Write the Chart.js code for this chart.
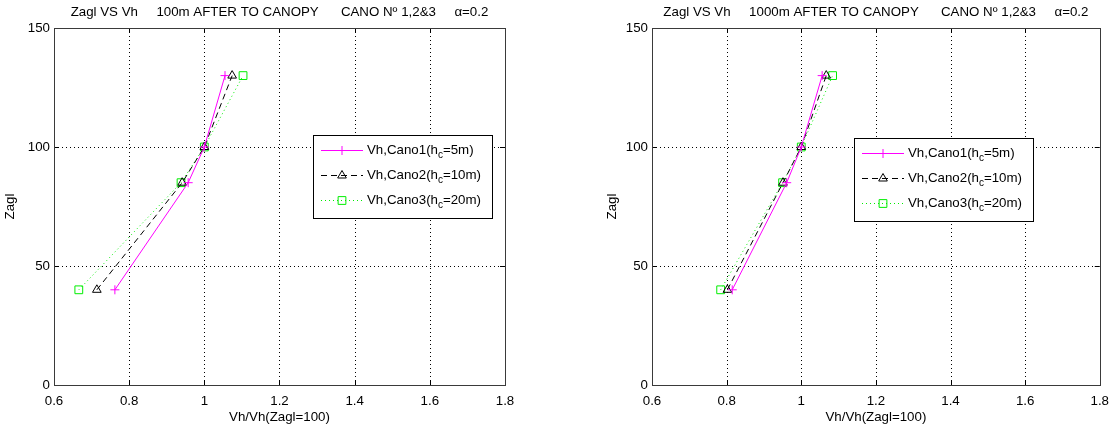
<!DOCTYPE html>
<html>
<head>
<meta charset="utf-8">
<script src="https://cdn.jsdelivr.net/npm/chart.js"></script>
<style>
  html, body { margin: 0; padding: 0; background: #fff; }
  #wrap { position: relative; width: 1117px; height: 427px; overflow: hidden; }
  .pane { position: absolute; top: 0; height: 427px; }
</style>
</head>
<body>
<div id="wrap">
  <div class="pane" style="left:0;width:558px"><canvas id="left" width="558" height="427"></canvas></div>
  <div class="pane" style="left:558px;width:559px"><canvas id="right" width="559" height="427"></canvas></div>
</div>
<script>
// heights above ground (y axis)
const zagl = [40, 85, 100, 130];

// Vh/Vh(Zagl=100), 100m after the canopy
const cano1_100m = [0.762, 0.957, 1.0, 1.055];
const cano2_100m = [0.714, 0.941, 1.0, 1.074];
const cano3_100m = [0.666, 0.938, 1.0, 1.103];

// Vh/Vh(Zagl=100), 1000m after the canopy
const cano1_1000m = [0.815, 0.961, 1.0, 1.056];
const cano2_1000m = [0.802, 0.951, 1.0, 1.067];
const cano3_1000m = [0.784, 0.950, 1.0, 1.084];

const xTicks = [0.6, 0.8, 1, 1.2, 1.4, 1.6, 1.8];
const yTicks = [0, 50, 100, 150];

const legendNames = ['Vh,Cano1(h', 'Vh,Cano2(h', 'Vh,Cano3(h'];
const legendSub = 'c';
const legendTail = ['=5m)', '=10m)', '=20m)'];

const titles = [
  'Zagl VS Vh     100m AFTER TO CANOPY      CANO N\u00BA 1,2&3     \u03B1=0.2',
  'Zagl VS Vh     1000m AFTER TO CANOPY      CANO N\u00BA 1,2&3     \u03B1=0.2'
];
const xLabel = 'Vh/Vh(Zagl=100)';
const yLabel = 'Zagl';

const FONT = '"Liberation Sans", Arial, sans-serif';
const FS = 13.3;

const styles = [
  { color: '#ff00ff', dash: [], pointStyle: 'cross', radius: 4.5 },
  { color: '#000000', dash: [6, 4], pointStyle: 'triangle', radius: 5 },
  { color: '#00ee00', dash: [1, 3], pointStyle: 'rect', radius: 5.5 }
];

const toPoints = (xs) => xs.map((x, i) => ({ x: x, y: zagl[i] }));

// matlab-like dotted grid, box, ticks, title, labels and legend
const matlabPlugin = {
  id: 'matlabFrame',
  beforeDatasetsDraw(chart) {
    const ctx = chart.ctx;
    const a = chart.chartArea;
    const xs = chart.scales.x, ys = chart.scales.y;
    ctx.save();
    ctx.strokeStyle = '#000';
    ctx.lineWidth = 1;
    ctx.setLineDash([1, 3]);
    ctx.beginPath();
    xTicks.slice(1, -1).forEach(v => {
      const px = Math.round(xs.getPixelForValue(v)) + 0.5;
      ctx.moveTo(px, a.top); ctx.lineTo(px, a.bottom);
    });
    yTicks.slice(1, -1).forEach(v => {
      const py = Math.round(ys.getPixelForValue(v)) + 0.5;
      ctx.moveTo(a.left, py); ctx.lineTo(a.right, py);
    });
    ctx.stroke();
    ctx.restore();
  },
  afterDraw(chart) {
    const o = chart.options.plugins.matlabFrame;
    const ctx = chart.ctx;
    const a = chart.chartArea;
    const xs = chart.scales.x, ys = chart.scales.y;
    ctx.save();

    // inward ticks, both sides
    ctx.strokeStyle = '#000';
    ctx.lineWidth = 1;
    ctx.setLineDash([]);
    ctx.beginPath();
    xTicks.forEach(v => {
      const px = Math.round(xs.getPixelForValue(v)) + 0.5;
      ctx.moveTo(px, a.bottom); ctx.lineTo(px, a.bottom - 5);
      ctx.moveTo(px, a.top); ctx.lineTo(px, a.top + 5);
    });
    yTicks.forEach(v => {
      const py = Math.round(ys.getPixelForValue(v)) + 0.5;
      ctx.moveTo(a.left, py); ctx.lineTo(a.left + 5, py);
      ctx.moveTo(a.right, py); ctx.lineTo(a.right - 5, py);
    });
    ctx.stroke();

    // box
    ctx.strokeStyle = '#3a3a3a';
    ctx.strokeRect(Math.round(a.left) + 0.5, Math.round(a.top) + 0.5,
      Math.round(a.right - a.left), Math.round(a.bottom - a.top));

    // title + axis labels
    ctx.fillStyle = '#000';
    ctx.font = FS + 'px ' + FONT;
    ctx.textAlign = 'center';
    ctx.textBaseline = 'middle';
    const cx = (a.left + a.right) / 2;
    ctx.fillText(o.title, cx, 12.5);
    ctx.fillText(xLabel, cx, 417);
    ctx.save();
    ctx.translate(o.yLabelX, (a.top + a.bottom) / 2);
    ctx.rotate(-Math.PI / 2);
    ctx.fillText(yLabel, 0, 0);
    ctx.restore();

    // legend
    const L = o.legend;
    ctx.fillStyle = '#fff';
    ctx.fillRect(L.x, L.y, L.w, L.h);
    ctx.strokeStyle = '#000';
    ctx.strokeRect(L.x + 0.5, L.y + 0.5, L.w, L.h);
    chart.data.datasets.forEach((ds, i) => {
      const st = styles[i];
      const ry = L.y + 15 + i * 25;
      const ly = Math.round(ry) + 0.5;
      ctx.strokeStyle = st.color;
      ctx.lineWidth = 1;
      ctx.setLineDash(st.dash);
      ctx.beginPath();
      ctx.moveTo(L.x + 8, ly);
      ctx.lineTo(L.x + 50, ly);
      ctx.stroke();
      ctx.setLineDash([]);
      ctx.fillStyle = 'rgba(0,0,0,0)';
      Chart.helpers.drawPoint(ctx, { pointStyle: st.pointStyle, radius: st.radius, borderWidth: 1, rotation: 0 },
        L.x + 29, ly);
      ctx.fillStyle = '#000';
      ctx.textAlign = 'left';
      ctx.font = FS + 'px ' + FONT;
      let tx = L.x + 54;
      ctx.fillText(legendNames[i], tx, ry);
      tx += ctx.measureText(legendNames[i]).width;
      ctx.font = '10px ' + FONT;
      ctx.fillText(legendSub, tx, ry + 5);
      tx += ctx.measureText(legendSub).width;
      ctx.font = FS + 'px ' + FONT;
      ctx.fillText(legendTail[i], tx, ry);
    });
    ctx.restore();
  }
};

function makeChart(id, series, cfg) {
  const datasets = series.map((s, i) => ({
    label: legendNames[i] + legendSub + legendTail[i],
    data: toPoints(s),
    showLine: true,
    borderColor: styles[i].color,
    backgroundColor: 'rgba(0,0,0,0)',
    borderWidth: 1,
    borderDash: styles[i].dash,
    pointStyle: styles[i].pointStyle,
    pointRadius: styles[i].radius,
    pointBorderColor: styles[i].color,
    pointBackgroundColor: 'rgba(0,0,0,0)',
    pointBorderWidth: 1,
    tension: 0
  }));
  return new Chart(document.getElementById(id), {
    type: 'scatter',
    data: { datasets: datasets },
    options: {
      responsive: false,
      animation: false,
      devicePixelRatio: 1,
      layout: { padding: { top: 28, right: cfg.padRight, left: 0, bottom: 0 } },
      scales: {
        x: {
          type: 'linear', min: 0.6, max: 1.8,
          afterBuildTicks: (s) => { s.ticks = xTicks.map(v => ({ value: v })); },
          afterFit: (s) => { s.height = 42; },
          ticks: {
            color: '#000', padding: 8, maxRotation: 0,
            font: { family: FONT, size: FS },
            callback: (v) => String(Math.round(v * 10) / 10)
          },
          grid: { display: false, drawTicks: false },
          border: { display: false }
        },
        y: {
          type: 'linear', min: 0, max: 150,
          afterBuildTicks: (s) => { s.ticks = yTicks.map(v => ({ value: v })); },
          afterFit: (s) => { s.width = cfg.yWidth; },
          ticks: {
            color: '#000', padding: 4,
            font: { family: FONT, size: FS }
          },
          grid: { display: false, drawTicks: false },
          border: { display: false }
        }
      },
      plugins: {
        legend: { display: false },
        tooltip: { enabled: false },
        matlabFrame: cfg.frame
      }
    },
    plugins: [matlabPlugin]
  });
}

makeChart('left', [cano1_100m, cano2_100m, cano3_100m], {
  padRight: 53, yWidth: 54,
  frame: { title: titles[0], yLabelX: 10, legend: { x: 313, y: 135, w: 179, h: 83 } }
});
makeChart('right', [cano1_1000m, cano2_1000m, cano3_1000m], {
  padRight: 8, yWidth: 94,
  frame: { title: titles[1], yLabelX: 54, legend: { x: 296, y: 138, w: 179, h: 83 } }
});
</script>
</body>
</html>
